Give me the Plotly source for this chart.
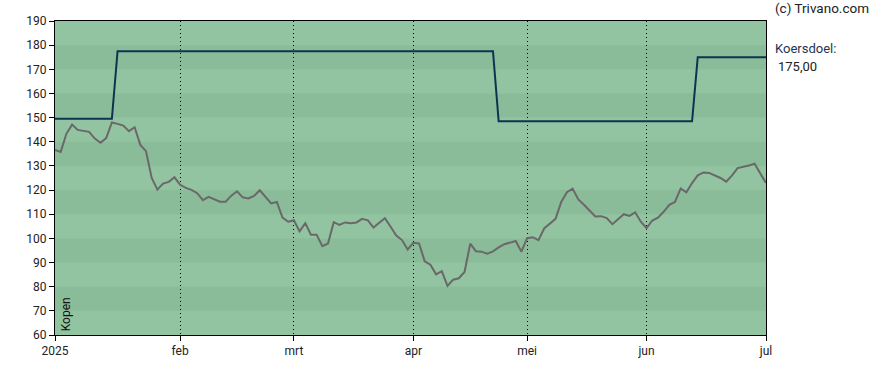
import pandas as pd
import plotly.graph_objects as go

# Trading days (Euronext) Jan 2 - Jul 1 2025
holidays = ["2025-01-01", "2025-04-18", "2025-04-21", "2025-05-01"]
dates = [d for d in pd.bdate_range("2025-01-02", "2025-07-01") if d.strftime("%Y-%m-%d") not in holidays]

price = [136.6, 135.8, 143.3, 147.1, 144.9, 144.5, 144.1, 141.3, 139.6, 141.5,
         148.0, 147.4, 146.7, 144.4, 146.0, 138.7, 136.1, 125.0, 120.2, 122.7,
         123.4, 125.3, 122.2, 120.9, 120.1, 118.7, 115.8, 117.2, 116.2, 115.2,
         115.2, 117.7, 119.5, 117.0, 116.5, 117.6, 119.9, 117.2, 114.5, 115.1,
         108.6, 106.9, 107.5, 102.9, 106.3, 101.5, 101.5, 96.8, 97.9, 106.7,
         105.6, 106.6, 106.3, 106.6, 108.1, 107.5, 104.5, 106.5, 108.4, 104.8,
         101.2, 99.3, 95.4, 98.2, 97.9, 90.5, 89.1, 85.1, 86.4, 80.3,
         82.9, 83.5, 86.1, 97.8, 94.7, 94.5, 93.7, 94.6, 96.3, 97.6,
         98.2, 98.9, 94.5, 100.1, 100.5, 99.3, 104.1, 106.2, 108.1, 115.1,
         119.1, 120.6, 116.1, 113.9, 111.5, 109.1, 109.2, 108.4, 105.9, 108.1,
         110.0, 109.3, 110.8, 106.9, 104.2, 107.4, 108.6, 111.0, 113.9, 115.1,
         120.7, 119.1, 122.9, 126.1, 127.3, 127.1, 126.1, 125.0, 123.5, 126.0,
         129.1, 129.5, 130.2, 130.9, 127.1, 122.9]

target_change_dates = ["2025-01-02", "2025-01-17", "2025-04-24", "2025-06-13"]
target_levels = [149.5, 177.5, 148.5, 175.0]

month_labels = ["2025", "feb", "mrt", "apr", "mei", "jun", "jul"]
y_ticks = list(range(60, 191, 10))

n = min(len(dates), len(price))
dates = dates[:n]
x = list(range(n))

# expand target levels per trading day
target = []
for d in dates:
    lvl = target_levels[0]
    for cd, lv in zip(target_change_dates, target_levels):
        if d >= pd.Timestamp(cd):
            lvl = lv
    target.append(lvl)

# tick positions: first trading day of each month
tickvals = []
seen = set()
for i, d in enumerate(dates):
    key = (d.year, d.month)
    if key not in seen:
        seen.add(key)
        tickvals.append(i)

fig = go.Figure()
fig.add_trace(go.Scatter(x=x, y=target, mode="lines",
                         line=dict(color="#0d3350", width=2), hoverinfo="skip"))
fig.add_trace(go.Scatter(x=x, y=price[:n], mode="lines",
                         line=dict(color="#6a6868", width=2), hoverinfo="skip"))

# alternating horizontal bands
shapes = []
for lo in y_ticks[:-1]:
    if (lo // 10) % 2 == 1:
        shapes.append(dict(type="rect", xref="paper", yref="y", x0=0, x1=1, y0=lo, y1=lo + 10,
                           fillcolor="#8abc9a", line=dict(width=0), layer="below"))

fig.update_layout(
    width=888, height=370,
    margin=dict(l=55, r=122, t=21, b=35, autoexpand=False),
    paper_bgcolor="white", plot_bgcolor="#93c4a2",
    showlegend=False,
    font=dict(family="Roboto, Arial, sans-serif", size=12, color="#222222"),
    shapes=shapes,
    xaxis=dict(range=[0, n - 1], tickvals=tickvals, ticktext=month_labels[:len(tickvals)],
               showgrid=True, gridcolor="#000000", griddash="1px,3px", gridwidth=1,
               showline=True, linecolor="#000000", linewidth=1, mirror=True,
               ticks="outside", ticklen=5, tickcolor="#000000", zeroline=False,
               automargin=False, tickfont=dict(size=12)),
    yaxis=dict(range=[60, 190], tickvals=y_ticks, showgrid=False,
               showline=True, linecolor="#000000", linewidth=1, mirror=True,
               ticks="outside", ticklen=5, tickcolor="#000000", zeroline=False,
               automargin=False, tickfont=dict(size=12)),
    annotations=[
        dict(text="(c) Trivano.com", xref="paper", yref="paper", x=1.0095, y=1.04,
             xanchor="left", yanchor="middle", showarrow=False, font=dict(size=13.5, color="#222222")),
        dict(text="Koersdoel:", xref="paper", yref="paper", x=1.0095, y=0.914,
             xanchor="left", yanchor="middle", showarrow=False, font=dict(size=13, color="#1f3550")),
        dict(text="175,00", xref="paper", yref="paper", x=1.0145, y=0.856,
             xanchor="left", yanchor="middle", showarrow=False, font=dict(size=13, color="#222222")),
        dict(text="Kopen", xref="paper", yref="paper", x=0.004, y=0.005, textangle=-90,
             xanchor="left", yanchor="bottom", showarrow=False, font=dict(size=12, color="#111111")),
    ],
)

fig.write_html("out.html", config={"displayModeBar": False},
               post_script="document.body.style.margin='0';")
